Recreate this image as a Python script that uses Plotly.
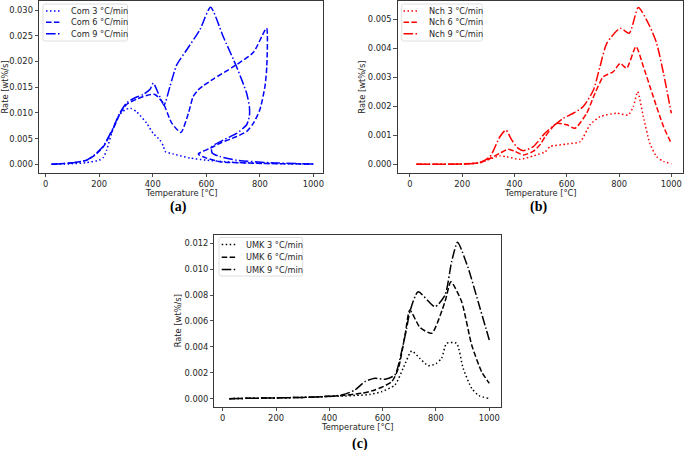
import plotly.graph_objects as go

W, H = 685, 450

# ---------------- data ----------------
com3_T = [22, 100, 150, 200, 215, 228, 246, 271, 296, 317, 340, 377, 402, 427, 440, 446, 477, 540, 600, 700, 800, 900, 1000]
com3_v = [0, 0.0001, 0.0003, 0.0008, 0.0013, 0.0028, 0.006, 0.0093, 0.0106, 0.0109, 0.0102, 0.008, 0.006, 0.0047, 0.0035, 0.0025, 0.002, 0.0012, 0.0008, 0.0004, 0.0002, 0.0001, 0.0]

com6_T = [22, 103, 153, 184, 215, 253, 278, 303, 340, 377, 408, 439, 471, 505, 533, 551, 570, 589, 626, 701, 776, 825, 826, 819, 800, 776, 751, 713, 651, 614, 570, 601, 651, 776, 1000]
com6_v = [0, 0.0003, 0.0008, 0.0018, 0.0034, 0.007, 0.0099, 0.0117, 0.0127, 0.0134, 0.0136, 0.0119, 0.008, 0.0062, 0.0099, 0.0132, 0.0145, 0.0153, 0.0166, 0.019, 0.0218, 0.0265, 0.019, 0.0151, 0.0106, 0.008, 0.0064, 0.0054, 0.0041, 0.0031, 0.002, 0.0012, 0.0005, 0.0002, 0.00005]

com9_T = [22, 103, 153, 184, 215, 253, 278, 303, 340, 365, 390, 402, 421, 442, 464, 489, 527, 576, 616, 663, 713, 751, 761, 761, 751, 713, 663, 620, 622, 651, 713, 838, 1000]
com9_v = [0, 0.0003, 0.0008, 0.0019, 0.0035, 0.0072, 0.0101, 0.012, 0.0131, 0.0136, 0.0146, 0.0158, 0.0138, 0.0115, 0.0151, 0.0193, 0.0223, 0.0262, 0.0306, 0.0249, 0.019, 0.0138, 0.0112, 0.0094, 0.0077, 0.006, 0.0047, 0.0034, 0.0022, 0.0015, 0.0008, 0.0003, 0.00005]

nch3_T = [25, 100, 200, 268, 306, 344, 370, 421, 472, 517, 536, 600, 651, 689, 727, 791, 835, 855, 871, 893, 918, 944, 970, 1000]
nch3_v = [0, 0, 0.00001, 0.00005, 0.00018, 0.00029, 0.00026, 0.00017, 0.00029, 0.00043, 0.00061, 0.0007, 0.00078, 0.00136, 0.00164, 0.00176, 0.0017, 0.002, 0.0025, 0.00164, 0.00072, 0.00026, 0.0001, 0.00002]

nch6_T = [25, 100, 200, 268, 306, 344, 376, 400, 434, 472, 500, 517, 561, 600, 631, 676, 708, 740, 778, 804, 829, 865, 893, 931, 970, 1000]
nch6_v = [0, 0, 0.00001, 0.00006, 0.0002, 0.00038, 0.00052, 0.00045, 0.00032, 0.00045, 0.0007, 0.00095, 0.00141, 0.00136, 0.00124, 0.00176, 0.00245, 0.00302, 0.00319, 0.00348, 0.00331, 0.00406, 0.00337, 0.00233, 0.0013, 0.00072]

nch9_T = [25, 100, 200, 268, 306, 344, 367, 389, 414, 434, 472, 517, 561, 587, 625, 663, 702, 727, 753, 804, 839, 874, 918, 944, 970, 1000]
nch9_v = [0, 0, 0.00001, 0.00006, 0.00026, 0.00095, 0.00118, 0.00084, 0.00055, 0.00047, 0.00061, 0.00108, 0.00141, 0.00159, 0.00176, 0.00199, 0.00256, 0.00337, 0.00417, 0.00469, 0.00452, 0.00541, 0.00475, 0.00417, 0.00314, 0.00176]

umk3_T = [25, 100, 200, 300, 400, 450, 500, 550, 596, 646, 677, 709, 740, 771, 800, 821, 840, 877, 902, 934, 960, 996]
umk3_v = [0, 0.00003, 0.00006, 0.0001, 0.00017, 0.0002, 0.00025, 0.00032, 0.00054, 0.00106, 0.00235, 0.00368, 0.0031, 0.00255, 0.0027, 0.00312, 0.00428, 0.00428, 0.00235, 0.0008, 0.00025, 0.00003]

umk6_T = [25, 100, 200, 300, 400, 450, 521, 571, 634, 659, 684, 702, 740, 784, 834, 856, 896, 934, 971, 1000]
umk6_v = [0, 0.00003, 0.00006, 0.0001, 0.00018, 0.00025, 0.00042, 0.00067, 0.00131, 0.00235, 0.00492, 0.00685, 0.0055, 0.00505, 0.0075, 0.00903, 0.0075, 0.00415, 0.00209, 0.00119]

umk9_T = [25, 100, 200, 300, 400, 450, 496, 533, 571, 610, 646, 671, 690, 702, 733, 796, 834, 859, 881, 921, 958, 1000]
umk9_v = [0, 0.00003, 0.00006, 0.0001, 0.00018, 0.0003, 0.00067, 0.00131, 0.00157, 0.0015, 0.00183, 0.00363, 0.00544, 0.00672, 0.00826, 0.0071, 0.008, 0.0106, 0.01208, 0.01007, 0.0075, 0.00453]

labels_a = ["Com 3 °C/min", "Com 6 °C/min", "Com 9 °C/min"]
labels_b = ["Nch 3 °C/min", "Nch 6 °C/min", "Nch 9 °C/min"]
labels_c = ["UMK 3 °C/min", "UMK 6 °C/min", "UMK 9 °C/min"]
x_ticks = [0, 200, 400, 600, 800, 1000]

# ---------------- styling ----------------
DOT = "1.5px,2.5px"
DASH = "5.5px,2.4px"
DASHDOT = "9.6px,2.4px,1.5px,2.4px"
DASHES = [DOT, DASH, DASHDOT]
FONT = "DejaVu Sans"
TXT = "#262626"


def px(x):
    return x / W


def py(y):
    return 1 - y / H


fig = go.Figure()

panels = [
    ("x", "y", [(com3_T, com3_v), (com6_T, com6_v), (com9_T, com9_v)], "#0000ff", labels_a),
    ("x2", "y2", [(nch3_T, nch3_v), (nch6_T, nch6_v), (nch9_T, nch9_v)], "#ff0000", labels_b),
    ("x3", "y3", [(umk3_T, umk3_v), (umk6_T, umk6_v), (umk9_T, umk9_v)], "#000000", labels_c),
]

for xa, ya, series, color, labs in panels:
    for (T, v), dash, lab in zip(series, DASHES, labs):
        fig.add_trace(go.Scatter(
            x=T, y=v, mode="lines", name=lab, xaxis=xa, yaxis=ya,
            line=dict(color=color, width=1.5, dash=dash, shape="spline", smoothing=0.6),
            showlegend=False, hoverinfo="skip"))

axis_common = dict(
    showgrid=False, zeroline=False, showline=True, linecolor="#222", linewidth=0.9,
    mirror=True, ticks="outside", ticklen=3.5, tickwidth=0.8, tickcolor="#222",
    tickfont=dict(family=FONT, size=8.3, color=TXT),
)

# panel geometry (pixels): left, right, top, bottom
geo = {
    "a": (39, 323, 1, 173),
    "b": (397.7, 683.5, 1, 172.7),
    "c": (214.3, 500.7, 235, 406.7),
}
xr = {"a": [-25, 1036], "b": [-47, 1046.6], "c": [-31.5, 1042.8]}
yr = {"a": [-0.0017, 0.0318], "b": [-0.00029, 0.00563], "c": [-0.00062, 0.01264]}
ydt = {"a": 0.005, "b": 0.001, "c": 0.002}

layout = dict(
    width=W, height=H, margin=dict(l=0, r=0, t=0, b=0),
    paper_bgcolor="white", plot_bgcolor="white", showlegend=False,
)
names = [("a", "xaxis", "yaxis", "x", "y"), ("b", "xaxis2", "yaxis2", "x2", "y2"), ("c", "xaxis3", "yaxis3", "x3", "y3")]
for k, xn, yn, xid, yid in names:
    l, r, t, b = geo[k]
    layout[xn] = dict(axis_common, domain=[px(l), px(r)], range=xr[k], anchor=yid,
                      tickmode="array", tickvals=x_ticks)
    layout[yn] = dict(axis_common, domain=[py(b), py(t)], range=yr[k], anchor=xid,
                      dtick=ydt[k], tick0=0, tickformat=".3f")
fig.update_layout(**layout)

ann = []
shapes = []
# axis titles and panel labels
titles = {
    "a": dict(xt=(181, 192.7), yt=(4.5, 87), lab=(178.7, 207)),
    "b": dict(xt=(540.6, 192.7), yt=(361.7, 87), lab=(538.7, 207)),
    "c": dict(xt=(357.5, 426.7), yt=(178.3, 321), lab=(359.7, 444)),
}
for k, tl in zip(["a", "b", "c"], ["(a)", "(b)", "(c)"]):
    d = titles[k]
    ann.append(dict(x=px(d["xt"][0]), y=py(d["xt"][1]), xref="paper", yref="paper",
                    text="Temperature [°C]", showarrow=False, xanchor="center", yanchor="middle",
                    font=dict(family=FONT, size=8.3, color=TXT)))
    ann.append(dict(x=px(d["yt"][0]), y=py(d["yt"][1]), xref="paper", yref="paper",
                    text="Rate [wt%/s]", showarrow=False, textangle=-90, xanchor="center", yanchor="middle",
                    font=dict(family=FONT, size=8.3, color=TXT)))
    ann.append(dict(x=px(d["lab"][0]), y=py(d["lab"][1]), xref="paper", yref="paper",
                    text="<b>" + tl + "</b>", showarrow=False, xanchor="center", yanchor="middle",
                    font=dict(family="Liberation Serif", size=14, color="#000")))

# legends (drawn as boxes, line samples and text)
legs = {
    "a": dict(box=(43, 127.5, 4, 41), line=(46, 60.7), tx=69.3, rows=[11, 22.3, 33.7], color="#0000ff", labs=labels_a),
    "b": dict(box=(401.7, 482.3, 4, 41), line=(403.5, 417.7), tx=426.7, rows=[11, 22.3, 33.7], color="#ff0000", labs=labels_b),
    "c": dict(box=(219, 302.7, 237.5, 276), line=(221.7, 237.3), tx=243.8, rows=[244.5, 257.2, 269.5], color="#000000", labs=labels_c),
}
for k, d in legs.items():
    x0, x1, y0, y1 = d["box"]
    rr = 2
    X0, X1, Y0, Y1 = px(x0), px(x1), py(y0), py(y1)
    rx, ry = rr / W, rr / H
    path = (f"M {X0+rx},{Y0} L {X1-rx},{Y0} Q {X1},{Y0} {X1},{Y0-ry} L {X1},{Y1+ry} "
            f"Q {X1},{Y1} {X1-rx},{Y1} L {X0+rx},{Y1} Q {X0},{Y1} {X0},{Y1+ry} L {X0},{Y0-ry} Q {X0},{Y0} {X0+rx},{Y0} Z")
    shapes.append(dict(type="path", path=path, xref="paper", yref="paper",
                       line=dict(color="#d6d6d6", width=0.8), fillcolor="rgba(255,255,255,0.8)", layer="above"))
    for row, dash, lab in zip(d["rows"], DASHES, d["labs"]):
        shapes.append(dict(type="line", xref="paper", yref="paper",
                           x0=px(d["line"][0]), x1=px(d["line"][1]), y0=py(row), y1=py(row),
                           line=dict(color=d["color"], width=1.5, dash=dash), layer="above"))
        ann.append(dict(x=px(d["tx"]), y=py(row), xref="paper", yref="paper", text=lab,
                        showarrow=False, xanchor="left", yanchor="middle",
                        font=dict(family=FONT, size=8.2, color=TXT)))

fig.update_layout(annotations=ann, shapes=shapes)
fig.write_html("out.html", config={"displayModeBar": False, "staticPlot": True},
               post_script="document.body.style.margin='0';document.body.style.overflow='hidden';")
